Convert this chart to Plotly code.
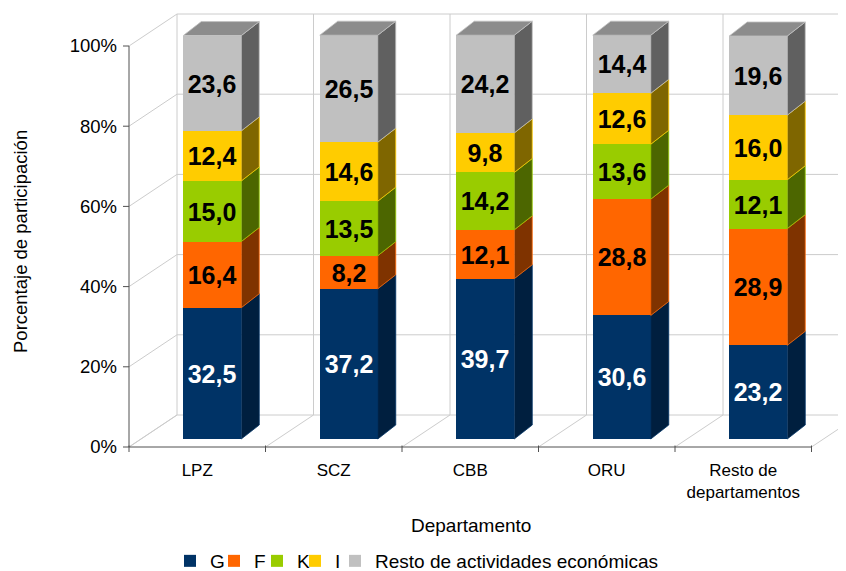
import plotly.graph_objects as go

# ---------------- data ----------------
categories = ["LPZ", "SCZ", "CBB", "ORU", "Resto de<br>departamentos"]
series_names = ["G", "F", "K", "I", "Resto de actividades económicas"]
G = [32.5, 37.2, 39.7, 30.6, 23.2]
F = [16.4, 8.2, 12.1, 28.8, 28.9]
K = [15.0, 13.5, 14.2, 13.6, 12.1]
I = [12.4, 14.6, 9.8, 12.6, 16.0]
Resto = [23.6, 26.5, 24.2, 14.4, 19.6]
series_values = [G, F, K, I, Resto]
y_ticks = [0, 20, 40, 60, 80, 100]
y_ticktext = ["0%", "20%", "40%", "60%", "80%", "100%"]

# ---------------- styles ----------------
front_colors = ["#003366", "#FF6600", "#99CC00", "#FFCC00", "#C0C0C0"]
side_colors = ["#001F3F", "#7F3300", "#4C6600", "#7F6600", "#606060"]
top_colors = ["#002850", "#B34700", "#6B8F00", "#B38F00", "#8C8C8C"]
text_colors = ["#FFFFFF", "#000000", "#000000", "#000000", "#000000"]
legend_pitch_px = [44, 43, 38, 40, 360]   # legend entry spacing
FONT = "Liberation Sans, Arial, sans-serif"
GRID = "#CCCCCC"
AXIS = "#505050"

# 3D projection helpers (pixels -> axis units)
PX_X = 136.5   # pixels per category
PX_Y = 4.01    # pixels per percentage point
wall_dx, wall_dy = 48 / PX_X, 32 / PX_Y
bar_w, bar_shift = 58 / PX_X, 15 / PX_X
bar_dx, bar_dy = 18 / PX_X, 14 / PX_Y
bar_y0, bar_k = 8 / PX_Y, 1.007

n = len(categories)
bounds = [i - 0.5 for i in range(n + 1)]

# The page body has an 8px margin: figure starts at screen (8, 8).
OFF = 8
W, H = 846 - OFF, 571 - OFF
L = 120 - OFF              # plot-area left edge (screen x = 120)
PLOT_BOTTOM = 453          # screen y of plot-area bottom
B = H - (PLOT_BOTTOM - OFF)
plot_w = W - L
plot_h = H - B


def px_x(sx):
    return (sx - 120) / plot_w


def px_y(sy):
    return (PLOT_BOTTOM - sy) / plot_h


fig = go.Figure()

# ---------- walls / grid (shapes below traces) ----------
shapes = []
gl = dict(color=GRID, width=1)
for v in y_ticks:
    shapes.append(dict(type="line", xref="x", yref="y", x0=-0.5, y0=v,
                       x1=-0.5 + wall_dx, y1=v + wall_dy, line=gl, layer="below"))
    shapes.append(dict(type="line", xref="x", yref="y", x0=-0.5 + wall_dx, y0=v + wall_dy,
                       x1=n + 2, y1=v + wall_dy, line=gl, layer="below"))
for b in bounds:
    shapes.append(dict(type="line", xref="x", yref="y", x0=b, y0=0,
                       x1=b + wall_dx, y1=wall_dy, line=gl, layer="below"))
    shapes.append(dict(type="line", xref="x", yref="y", x0=b + wall_dx, y0=wall_dy,
                       x1=b + wall_dx, y1=y_ticks[-1] + wall_dy, line=gl, layer="below"))

# axis lines and tick marks
al = dict(color=AXIS, width=1)
shapes.append(dict(type="line", xref="x", yref="y", x0=-0.5, y0=0, x1=-0.5, y1=y_ticks[-1], line=al))
shapes.append(dict(type="line", xref="x", yref="y", x0=bounds[0], y0=0, x1=bounds[-1], y1=0, line=al))
for v in y_ticks:
    shapes.append(dict(type="line", xref="x", yref="y", x0=-0.5 - 6 / PX_X, y0=v, x1=-0.5, y1=v, line=al))
for b in bounds:
    shapes.append(dict(type="line", xref="x", yref="y", x0=b, y0=1.5 / PX_Y, x1=b, y1=-5 / PX_Y, line=al))

# ---------- bars ----------
cum = [0.0] * n
for s, (name, vals) in enumerate(zip(series_names, series_values)):
    xs = [i + bar_shift for i in range(n)]
    bases = [bar_y0 + c * bar_k for c in cum]
    heights = [v * bar_k for v in vals]
    labels = [f"{v:.1f}".replace(".", ",") for v in vals]
    fig.add_trace(go.Bar(
        x=xs, y=heights, base=bases, width=bar_w, name=name,
        marker=dict(color=front_colors[s], line=dict(width=0)),
        text=labels, textposition="inside", insidetextanchor="middle",
        textangle=0, constraintext="none",
        textfont=dict(family=FONT, size=25, color=text_colors[s], weight="bold"),
        hoverinfo="skip", legendwidth=legend_pitch_px[s] / plot_w,
    ))
    px, py = [], []
    for i in range(n):
        xr = xs[i] + bar_w / 2
        y0 = bases[i]
        y1 = bases[i] + heights[i]
        px += [xr, xr + bar_dx, xr + bar_dx, xr, xr, None]
        py += [y0, y0 + bar_dy, y1 + bar_dy, y1, y0, None]
    fig.add_trace(go.Scatter(
        x=px, y=py, mode="lines", fill="toself", fillcolor=side_colors[s],
        line=dict(color=front_colors[s], width=0.8), showlegend=False, hoverinfo="skip",
    ))
    cum = [c + v for c, v in zip(cum, vals)]

# top faces (belong to the last series)
tx, ty = [], []
last = len(series_values) - 1
for i in range(n):
    xl = i + bar_shift - bar_w / 2
    xr = i + bar_shift + bar_w / 2
    yt = bar_y0 + cum[i] * bar_k
    tx += [xl, xl + bar_dx, xr + bar_dx, xr, xl, None]
    ty += [yt, yt + bar_dy, yt + bar_dy, yt, yt, None]
fig.add_trace(go.Scatter(
    x=tx, y=ty, mode="lines", fill="toself", fillcolor=top_colors[last],
    line=dict(color=front_colors[last], width=0.8), showlegend=False, hoverinfo="skip",
))

fig.update_layout(
    width=W, height=H,
    margin=dict(l=L, r=0, t=0, b=B, pad=0, autoexpand=False),
    paper_bgcolor="white", plot_bgcolor="white",
    barmode="overlay", bargap=0,
    font=dict(family=FONT, color="#000000"),
    shapes=shapes,
    xaxis=dict(
        range=[-0.5 - 9 / PX_X, -0.5 + (846 - 129) / PX_X],
        tickmode="array", tickvals=list(range(n)), ticktext=categories,
        ticks="", showgrid=False, zeroline=False, showline=False,
        tickfont=dict(family=FONT, size=17, color="#000000"),
        ticklabelstandoff=5, fixedrange=True, automargin=False,
    ),
    yaxis=dict(
        range=[-6 / PX_Y, (447 - OFF) / PX_Y],
        tickmode="array", tickvals=y_ticks, ticktext=y_ticktext,
        ticks="", showgrid=False, zeroline=False, showline=False,
        tickfont=dict(family=FONT, size=18.5, color="#000000"),
        ticklabelstandoff=2, fixedrange=True, automargin=False,
    ),
    legend=dict(
        orientation="h", x=px_x(170), xanchor="left",
        y=px_y(561), yanchor="middle",
        entrywidthmode="fraction",
        font=dict(family=FONT, size=19, color="#000000"),
        traceorder="normal", bgcolor="rgba(0,0,0,0)",
    ),
    annotations=[
        dict(text="Departamento", xref="paper", yref="paper",
             x=px_x(471), y=px_y(525),
             xanchor="center", yanchor="middle", showarrow=False,
             font=dict(family=FONT, size=19, color="#000000")),
        dict(text="Porcentaje de participación", xref="paper", yref="paper",
             x=px_x(20), y=px_y(242), textangle=-90,
             xanchor="center", yanchor="middle", showarrow=False,
             font=dict(family=FONT, size=18.5, color="#000000")),
    ],
    showlegend=True,
)

fig.write_html("out.html")
